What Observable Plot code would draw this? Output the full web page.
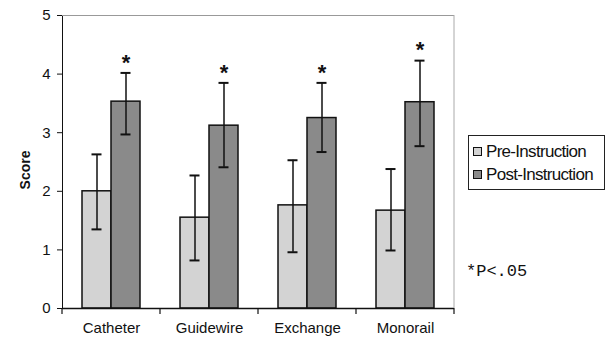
<!DOCTYPE html>
<html><head><meta charset="utf-8">
<script src="https://cdn.jsdelivr.net/npm/d3@7"></script>
<script src="https://cdn.jsdelivr.net/npm/@observablehq/plot@0.6"></script>
<style>
body{margin:0;background:#fff;}
#wrap{position:relative;width:613px;height:345px;font-family:"Liberation Sans",Arial,sans-serif;}
#ylab{position:absolute;left:25px;top:170px;transform:translate(-50%,-50%) rotate(-90deg);font-weight:bold;font-size:14px;color:#111;}
#legend{position:absolute;left:468px;top:135px;width:137px;height:55px;border:1.5px solid #222;box-sizing:border-box;padding:4px 0 0 4px;font-size:17px;letter-spacing:-0.7px;color:#111;}
#legend div{height:23px;line-height:23px;display:flex;align-items:center;}
#legend span.sw{display:inline-block;width:7px;height:7px;border:1.5px solid #111;margin-right:4px;}
#note{position:absolute;left:466px;top:262px;font-family:"Liberation Mono","Courier New",monospace;font-size:17px;color:#111;}
</style></head>
<body><div id="wrap"><div id="ylab">Score</div><div id="legend"></div><div id="note"></div></div>
<script>
const categories = ["Catheter","Guidewire","Exchange","Monorail"];
const seriesNames = ["Pre-Instruction","Post-Instruction"];
const preMean = [2.00,1.55,1.76,1.67];
const preLo   = [1.35,0.82,0.96,0.99];
const preHi   = [2.63,2.27,2.53,2.38];
const postMean = [3.53,3.12,3.25,3.52];
const postLo   = [2.97,2.41,2.67,2.77];
const postHi   = [4.02,3.85,3.85,4.23];
const postSig  = ["*","*","*","*"];
const yTicks = [0,1,2,3,4,5];
const colors = ["#d3d3d3","#8a8a8a"];
const noteText = "*P<.05";

const rows = categories.flatMap((c,i)=>[
  {cat:c, series:seriesNames[0], mean:preMean[i], lo:preLo[i], hi:preHi[i], sig:""},
  {cat:c, series:seriesNames[1], mean:postMean[i], lo:postLo[i], hi:postHi[i], sig:postSig[i]}
]);

const chart = Plot.plot({
  width:613, height:345,
  marginLeft:62, marginRight:159, marginTop:15, marginBottom:37,
  style:{fontSize:"15px", fontFamily:"'Liberation Sans', Arial, sans-serif", color:"#111", background:"transparent"},
  facet:{data:rows, x:"cat"},
  fx:{domain:categories, padding:0, label:null, axis:"bottom", tickSize:0, tickPadding:14},
  x:{domain:seriesNames, paddingInner:0, paddingOuter:0.66, axis:null},
  y:{domain:[0,5], ticks:yTicks, tickFormat:d=>String(d), tickSize:5, tickPadding:7, label:null, line:true},
  color:{domain:seriesNames, range:colors},
  marks:[
    Plot.ruleY([5], {stroke:"#999", strokeWidth:1}),
    Plot.barY(rows, {x:"series", y:"mean", fill:"series", stroke:"#111", strokeWidth:1.5}),
    Plot.ruleX(rows, {x:"series", y1:"lo", y2:"hi", stroke:"#111", strokeWidth:1.5}),
    Plot.tickY(rows, {x:"series", y:"lo", stroke:"#111", strokeWidth:2, insetLeft:9.5, insetRight:9.5}),
    Plot.tickY(rows, {x:"series", y:"hi", stroke:"#111", strokeWidth:2, insetLeft:9.5, insetRight:9.5}),
    Plot.text(rows, {x:"series", y:"hi", text:"sig", lineAnchor:"top", dy:-19, fontSize:22, fontWeight:"bold", fill:"#111"}),
    Plot.ruleY([0], {stroke:"#111", strokeWidth:1.5})
  ]
});
document.getElementById("wrap").prepend(chart);
chart.style.position="absolute"; chart.style.left="0"; chart.style.top="0";

// boundary ticks and right border from the library's scales
const fx = chart.scale("fx"), ys = chart.scale("y");
const y0 = ys.apply(0), y5 = ys.apply(5);
const edges = categories.map(c=>fx.apply(c)).concat([fx.apply(categories[categories.length-1]) + fx.bandwidth]);
const g = d3.select(chart).append("g");
g.selectAll("line.t").data(edges).join("line")
  .attr("x1",d=>d).attr("x2",d=>d).attr("y1",y0).attr("y2",y0+6)
  .attr("stroke","#111").attr("stroke-width",1.2);
g.append("line").attr("x1",edges[edges.length-1]).attr("x2",edges[edges.length-1])
  .attr("y1",y5).attr("y2",y0).attr("stroke","#aaa").attr("stroke-width",1);

const leg = d3.select("#legend");
seriesNames.forEach((s,i)=>{
  const row = leg.append("div");
  row.append("span").attr("class","sw").style("background",colors[i]);
  row.append("span").text(s);
});
d3.select("#note").text(noteText);
</script></body></html>
